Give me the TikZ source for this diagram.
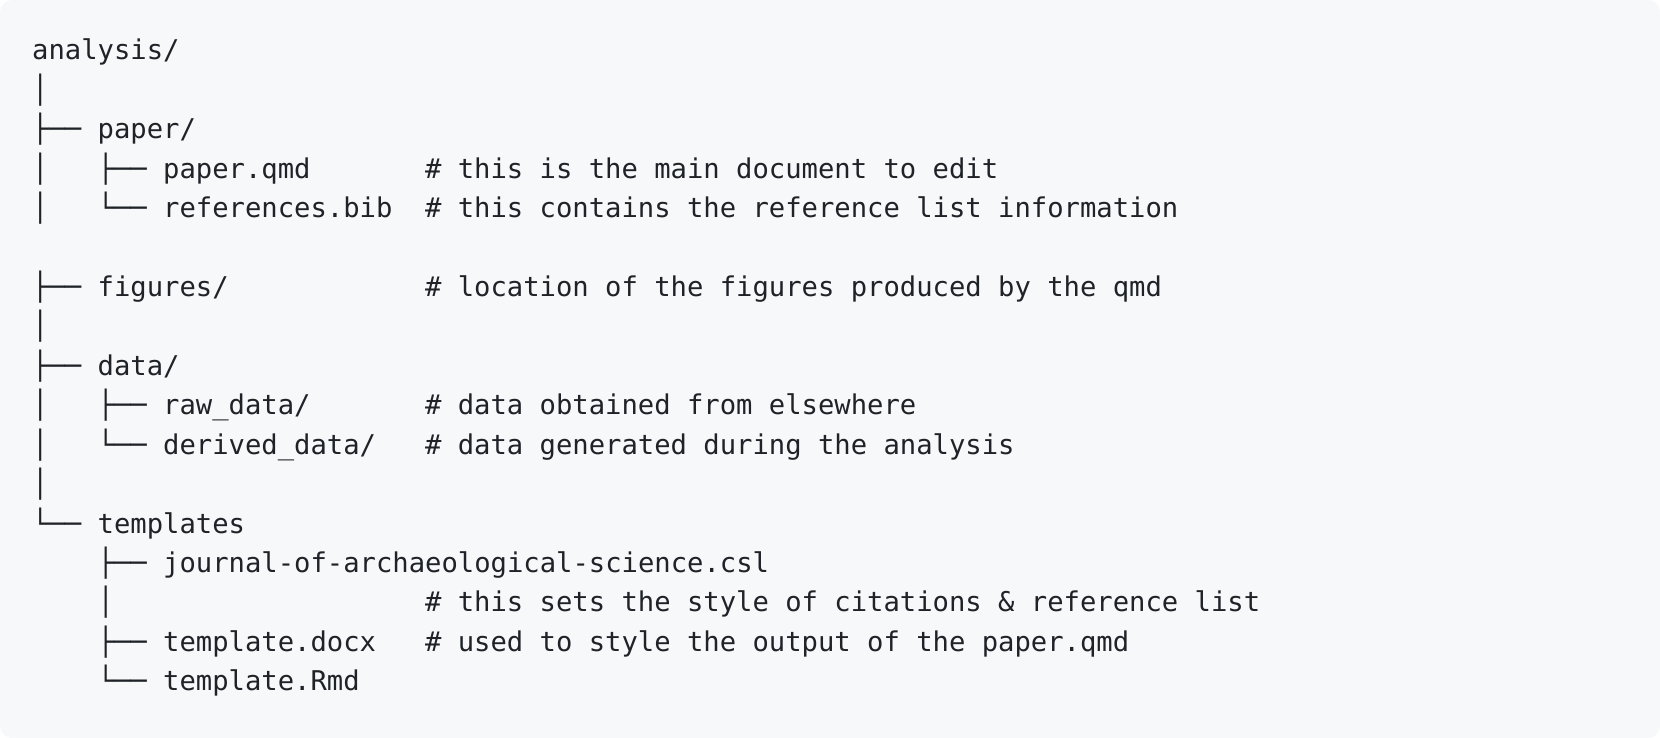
\documentclass[tikz,border=0pt]{standalone}
\usepackage{fontspec}
\newfontfamily\codefont{DejaVu Sans Mono}
\definecolor{codebg}{HTML}{F6F8FA}
\definecolor{codefg}{HTML}{1F2328}
\tikzset{entry/.style={anchor=base west, inner sep=0pt, text=codefg,
  font=\codefont\fontsize{13.6}{19.7}\selectfont}}
\begin{document}
\begin{tikzpicture}[x=8.185pt,y=19.71pt]
\useasboundingbox (-15.9pt,30pt) rectangle (814.1pt,-339pt);
\fill[codebg, rounded corners=6pt] (-15.9pt,30pt) rectangle (814.1pt,-339pt);
% root
\node[entry] (root) at (0,0) {analysis/};
\node[entry] (bar1) at (0,-1) {│};
% paper
\node[entry] (b-paper) at (0,-2) {├──};
\node[entry] (paper) at (4,-2) {paper/};
\node[entry] (b-paperqmd) at (0,-3) {│\ \ \ ├──};
\node[entry] (paperqmd) at (8,-3) {paper.qmd};
\node[entry] (c-paperqmd) at (24,-3) {\# this is the main document to edit};
\node[entry] (b-refbib) at (0,-4) {│\ \ \ └──};
\node[entry] (refbib) at (8,-4) {references.bib};
\node[entry] (c-refbib) at (24,-4) {\# this contains the reference list information};
% figures
\node[entry] (b-figures) at (0,-6) {├──};
\node[entry] (figures) at (4,-6) {figures/};
\node[entry] (c-figures) at (24,-6) {\# location of the figures produced by the qmd};
\node[entry] (bar2) at (0,-7) {│};
% data
\node[entry] (b-data) at (0,-8) {├──};
\node[entry] (data) at (4,-8) {data/};
\node[entry] (b-rawdata) at (0,-9) {│\ \ \ ├──};
\node[entry] (rawdata) at (8,-9) {raw\_data/};
\node[entry] (c-rawdata) at (24,-9) {\# data obtained from elsewhere};
\node[entry] (b-deriveddata) at (0,-10) {│\ \ \ └──};
\node[entry] (deriveddata) at (8,-10) {derived\_data/};
\node[entry] (c-deriveddata) at (24,-10) {\# data generated during the analysis};
\node[entry] (bar3) at (0,-11) {│};
% templates
\node[entry] (b-templates) at (0,-12) {└──};
\node[entry] (templates) at (4,-12) {templates};
\node[entry] (b-journal) at (4,-13) {├──};
\node[entry] (journal) at (8,-13) {journal-of-archaeological-science.csl};
\node[entry] (bar4) at (4,-14) {│};
\node[entry] (c-journal) at (24,-14) {\# this sets the style of citations \& reference list};
\node[entry] (b-docx) at (4,-15) {├──};
\node[entry] (docx) at (8,-15) {template.docx};
\node[entry] (c-docx) at (24,-15) {\# used to style the output of the paper.qmd};
\node[entry] (b-rmd) at (4,-16) {└──};
\node[entry] (rmd) at (8,-16) {template.Rmd};
\end{tikzpicture}
\end{document}
